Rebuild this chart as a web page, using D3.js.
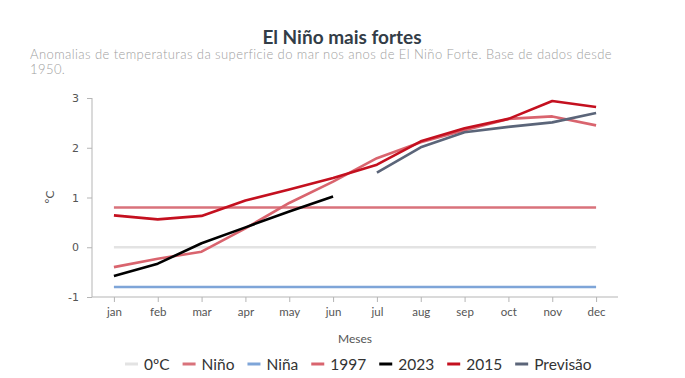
<!DOCTYPE html>
<html>
<head>
<meta charset="utf-8">
<script src="https://cdn.jsdelivr.net/npm/d3@7"></script>
<style>
  body { margin: 0; background: #fff; }
  svg { display: block; font-family: Lato, sans-serif; }
</style>
</head>
<body>
<svg id="chart" width="685" height="378"></svg>
<script>
// * data
var months = ['jan', 'feb', 'mar', 'apr', 'may', 'jun', 'jul', 'aug', 'sep', 'oct', 'nov', 'dec'];
var yTicks = [-1, 0, 1, 2, 3];
var zero   = [0, 0, 0, 0, 0, 0, 0, 0, 0, 0, 0, 0];
var nino   = [0.8, 0.8, 0.8, 0.8, 0.8, 0.8, 0.8, 0.8, 0.8, 0.8, 0.8, 0.8];
var nina   = [-0.8, -0.8, -0.8, -0.8, -0.8, -0.8, -0.8, -0.8, -0.8, -0.8, -0.8, -0.8];
var y1997  = [-0.40, -0.23, -0.09, 0.38, 0.89, 1.32, 1.79, 2.11, 2.35, 2.58, 2.63, 2.45];
var y2023  = [-0.58, -0.33, 0.08, 0.40, 0.72, 1.02, null, null, null, null, null, null];
var y2015  = [0.64, 0.56, 0.63, 0.94, 1.16, 1.39, 1.66, 2.13, 2.39, 2.58, 2.94, 2.82];
var previsao = [null, null, null, null, null, null, 1.50, 2.01, 2.31, 2.42, 2.51, 2.70];

var series = [
  { name: '0ºC',      values: zero,     color: '#e3e3e3' },
  { name: 'Niño',     values: nino,     color: '#d9727b' },
  { name: 'Niña',     values: nina,     color: '#7ea5d8' },
  { name: '1997',     values: y1997,    color: '#d9646e' },
  { name: '2023',     values: y2023,    color: '#000000' },
  { name: '2015',     values: y2015,    color: '#c4101f' },
  { name: 'Previsão', values: previsao, color: '#5b6579' }
];

var svg = d3.select('#chart');

svg.append('text').attr('x', 342).attr('y', 44).attr('text-anchor', 'middle')
   .attr('font-size', 19).attr('font-weight', 700).attr('fill', '#333d47')
   .text('El Niño mais fortes');
svg.append('text').attr('x', 30).attr('y', 59).attr('font-size', 13).attr('font-weight', 300)
   .attr('letter-spacing', 0.42).attr('fill', '#a0a0a0')
   .text('Anomalias de temperaturas da superficie do mar nos anos de El Niño Forte. Base de dados desde');
svg.append('text').attr('x', 30).attr('y', 74).attr('font-size', 13).attr('font-weight', 300)
   .attr('letter-spacing', 0.42).attr('fill', '#a0a0a0')
   .text('1950.');

var x = d3.scalePoint().domain(months).range([92, 618]).padding(0.5);
var y = d3.scaleLinear().domain([-1, 3]).range([297, 98]);

// axes
var xAxis = svg.append('g').attr('transform', 'translate(0,297)')
  .call(d3.axisBottom(x).tickSize(5).tickPadding(6));
xAxis.select('.domain').attr('d', 'M92,0H618').attr('stroke', '#b5b5b5');
xAxis.selectAll('.tick line').attr('stroke', '#b5b5b5');
xAxis.selectAll('.tick text').attr('font-family', 'Lato, sans-serif').attr('font-size', 11.5).attr('fill', '#555');

var yAxis = svg.append('g').attr('transform', 'translate(92,0)')
  .call(d3.axisLeft(y).tickValues(yTicks).tickSize(5).tickPadding(8).tickFormat(function (d) { return String(d); }));
yAxis.select('.domain').attr('d', 'M0,98V297').attr('stroke', '#b5b5b5');
yAxis.selectAll('.tick line').attr('stroke', '#b5b5b5');
yAxis.selectAll('.tick text').attr('font-family', '"DejaVu Sans", sans-serif').attr('font-size', 11).attr('fill', '#555');

svg.append('text').attr('transform', 'translate(54,197) rotate(-90)').attr('text-anchor', 'middle')
   .attr('font-size', 12).attr('fill', '#555').text('ºC');
svg.append('text').attr('x', 355).attr('y', 343).attr('text-anchor', 'middle')
   .attr('font-size', 12).attr('fill', '#555').text('Meses');

// lines
var line = d3.line()
  .defined(function (d) { return d != null; })
  .x(function (d, i) { return x(months[i]); })
  .y(function (d) { return y(d); });

svg.append('g').selectAll('path').data(series).join('path')
  .attr('d', function (s) { return line(s.values); })
  .attr('fill', 'none')
  .attr('stroke', function (s) { return s.color; })
  .attr('stroke-width', 2.6)
  .attr('stroke-linejoin', 'round');

// legend
var legend = svg.append('g').attr('transform', 'translate(0,364)');
var lx = 125;
series.forEach(function (s) {
  var g = legend.append('g').attr('transform', 'translate(' + lx + ',0)');
  g.append('line').attr('x1', 0).attr('x2', 13).attr('y1', 0).attr('y2', 0)
   .attr('stroke', s.color).attr('stroke-width', 3);
  var t = g.append('text').attr('x', 19).attr('y', 5.5).attr('font-size', 15.5).attr('fill', '#333')
   .text(s.name);
  lx += 19 + t.node().getComputedTextLength() + 13;
});
</script>
</body>
</html>
